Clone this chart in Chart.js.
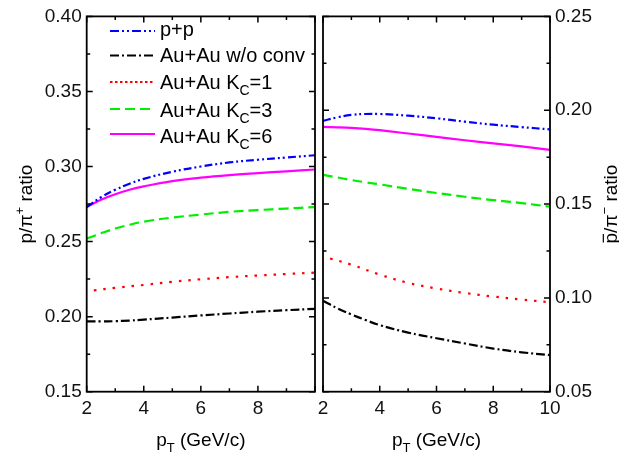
<!DOCTYPE html>
<html>
<head>
<meta charset="utf-8">
<script src="https://cdn.jsdelivr.net/npm/chart.js@4.4.1/dist/chart.umd.min.js"></script>
<style>
  body { margin: 0; background: #fff; }
  #wrap { position: relative; width: 619px; height: 459px; }
  #wrap canvas { position: absolute; left: 0; top: 0; }
</style>
</head>
<body>
<div id="wrap">
  <canvas id="leftChart" width="619" height="459"></canvas>
  <canvas id="rightChart" width="619" height="459"></canvas>
</div>
<script>
// pT points
const ptGrid = [2, 2.5, 3, 3.5, 4, 5, 6, 7, 8, 9, 10];
const ptRed = [2.25, 3, 4, 5, 6, 7, 8, 9, 10];

// left panel: p/pi+ ratio
const ppLeft = [0.273, 0.2795, 0.2845, 0.2885, 0.2918, 0.2965, 0.300, 0.3027, 0.3045, 0.306, 0.3075];
const noConvLeft = [0.1968, 0.1968, 0.1970, 0.1974, 0.1980, 0.1994, 0.2008, 0.2021, 0.2033, 0.2043, 0.2052];
const kc1Left = [0.2175, 0.2192, 0.2211, 0.2232, 0.2249, 0.2263, 0.2274, 0.2284, 0.2293];
const kc3Left = [0.252, 0.2555, 0.2587, 0.2612, 0.2633, 0.266, 0.268, 0.2698, 0.271, 0.272, 0.273];
const kc6Left = [0.273, 0.2778, 0.2815, 0.2845, 0.2868, 0.2903, 0.2926, 0.2943, 0.2956, 0.2968, 0.298];

// right panel: pbar/pi- ratio
const ppRight = [0.1943, 0.1962, 0.1975, 0.1980, 0.1980, 0.1971, 0.1957, 0.1939, 0.1923, 0.1910, 0.1898];
const noConvRight = [0.0985, 0.0945, 0.0912, 0.0882, 0.0855, 0.0815, 0.0785, 0.0757, 0.0730, 0.0710, 0.0695];
const kc1Right = [0.121, 0.1177, 0.1124, 0.1080, 0.1050, 0.1026, 0.1007, 0.0991, 0.0977];
const kc3Right = [0.1656, 0.1642, 0.1628, 0.1616, 0.1605, 0.1581, 0.1559, 0.1539, 0.1521, 0.1505, 0.1486];
const kc6Right = [0.1911, 0.1909, 0.1906, 0.1901, 0.1894, 0.1876, 0.1858, 0.1840, 0.1823, 0.1807, 0.1789];

const xTicksLeft = [2, 4, 6, 8];
const xTicksRight = [2, 4, 6, 8, 10];

const FONT = '"Liberation Sans", Arial, sans-serif';

const styles = [
    { label: [['p+p']], color: '#0000ff', dash: [8, 3, 2, 3, 2, 3], legendDash: [9, 3, 2, 3, 2, 3] },
    { label: [['Au+Au w/o conv']], color: '#000000', dash: [9, 3, 2, 3], legendDash: [9, 3, 2, 3] },
    { label: [['Au+Au K'], ['C', 'sub'], ['=1']], color: '#ff0000', dash: [2.5, 7], legendDash: [2.5, 2.5] },
    { label: [['Au+Au K'], ['C', 'sub'], ['=3']], color: '#00ee00', dash: [10, 5], legendDash: [10, 5] },
    { label: [['Au+Au K'], ['C', 'sub'], ['=6']], color: '#ff00ff', dash: [], legendDash: [] }
];

function pts(xs, ys) {
    return ys.map((y, i) => ({ x: xs[i], y: y }));
}

function makeDatasets(series) {
    return series.map((s, i) => ({
        label: styles[i].label.map(p => p[0]).join(''),
        data: pts(s[0], s[1]),
        borderColor: styles[i].color,
        borderDash: styles[i].dash,
        borderWidth: 2.2,
        pointRadius: 0,
        fill: false,
        tension: 0.4
    }));
}

// rich text: parts = [[text, kind]] with kind sub/sup/over
function drawRich(ctx, parts, x, y, size, align) {
    const small = Math.round(size * 0.68);
    let total = 0;
    const widths = parts.map(p => {
        ctx.font = (p[1] === 'sub' || p[1] === 'sup' ? small : size) + 'px ' + FONT;
        const w = ctx.measureText(p[0]).width;
        total += w;
        return w;
    });
    let cx = align === 'center' ? x - total / 2 : x;
    ctx.textAlign = 'left';
    ctx.textBaseline = 'alphabetic';
    parts.forEach((p, i) => {
        let dy = 0;
        if (p[1] === 'sub') { ctx.font = small + 'px ' + FONT; dy = size * 0.3; }
        else if (p[1] === 'sup') { ctx.font = small + 'px ' + FONT; dy = -size * 0.4; }
        else ctx.font = size + 'px ' + FONT;
        ctx.fillText(p[0], cx, y + dy);
        if (p[1] === 'over') {
            ctx.lineWidth = 1.2;
            ctx.setLineDash([]);
            ctx.beginPath();
            ctx.moveTo(cx + 1, y - size * 0.72);
            ctx.lineTo(cx + widths[i] - 1, y - size * 0.72);
            ctx.stroke();
        }
        cx += widths[i];
    });
}

function framePlugin(opts) {
    return {
        id: 'frame' + opts.side,
        afterDraw(chart) {
            const ctx = chart.ctx;
            const a = chart.chartArea;
            const xs = chart.scales.x, ys = chart.scales.y;
            ctx.save();
            ctx.strokeStyle = '#000';
            ctx.fillStyle = '#000';
            ctx.lineWidth = 1.8;
            ctx.setLineDash([]);
            ctx.strokeRect(a.left, a.top, a.right - a.left, a.bottom - a.top);
            ctx.lineWidth = 1.5;
            ctx.beginPath();
            // x ticks, every 1 unit, major every 2
            for (let v = 2; v <= 10; v += 1) {
                const px = xs.getPixelForValue(v);
                const len = v % 2 === 0 ? 6 : 3.5;
                ctx.moveTo(px, a.bottom); ctx.lineTo(px, a.bottom - len);
                ctx.moveTo(px, a.top); ctx.lineTo(px, a.top + len);
            }
            // y ticks
            const n = Math.round((opts.yMax - opts.yMin) / opts.minor);
            for (let k = 0; k <= n; k++) {
                const v = opts.yMin + k * opts.minor;
                const py = ys.getPixelForValue(v);
                const len = k % 2 === 0 ? 6 : 3.5;
                ctx.moveTo(a.left, py); ctx.lineTo(a.left + len, py);
                ctx.moveTo(a.right, py); ctx.lineTo(a.right - len, py);
            }
            ctx.stroke();

            // x title
            const cx = (a.left + a.right) / 2;
            drawRich(ctx, [['p'], ['T', 'sub'], [' (GeV/c)']], cx, 446, 19, 'center');

            // y title
            ctx.save();
            ctx.translate(opts.yTitleX, (a.top + a.bottom) / 2);
            ctx.rotate(-Math.PI / 2);
            drawRich(ctx, opts.yTitle, 0, 7, 19, 'center');
            ctx.restore();

            // legend
            if (opts.legend) {
                const rowsY = [35.5, 62.3, 89.3, 116.5, 143.3];
                const lineY = [31, 55.5, 82, 109, 134];
                styles.forEach((s, i) => {
                    ctx.strokeStyle = s.color;
                    ctx.lineWidth = 2;
                    ctx.setLineDash(s.legendDash);
                    ctx.beginPath();
                    ctx.moveTo(110, lineY[i]);
                    ctx.lineTo(155, lineY[i]);
                    ctx.stroke();
                    ctx.fillStyle = '#000';
                    drawRich(ctx, s.label, 160, rowsY[i], 20, 'left');
                });
            }
            ctx.restore();
        }
    };
}

function makeChart(id, cfg) {
    return new Chart(document.getElementById(id), {
        type: 'line',
        data: { datasets: makeDatasets(cfg.series) },
        options: {
            responsive: false,
            animation: false,
            layout: { padding: cfg.padding },
            plugins: { legend: { display: false }, tooltip: { enabled: false } },
            scales: {
                x: {
                    type: 'linear', min: 2, max: 10,
                    grid: { display: false, drawTicks: false },
                    border: { display: false },
                    afterFit: s => { s.height = 67.3; },
                    afterBuildTicks: s => { s.ticks = cfg.xTicks.map(v => ({ value: v })); },
                    ticks: { padding: 6, color: '#111', font: { family: FONT, size: 19 }, maxRotation: 0 }
                },
                y: {
                    type: 'linear', position: cfg.yPos, min: cfg.yMin, max: cfg.yMax,
                    grid: { display: false, drawTicks: false },
                    border: { display: false },
                    afterFit: s => { s.width = cfg.yWidth; },
                    ticks: {
                        stepSize: cfg.yStep, padding: 5, color: '#111',
                        font: { family: FONT, size: 19 },
                        callback: v => v.toFixed(2)
                    }
                }
            }
        },
        plugins: [framePlugin(cfg)]
    });
}

makeChart('leftChart', {
    side: 'L',
    series: [[ptGrid, ppLeft], [ptGrid, noConvLeft], [ptRed, kc1Left], [ptGrid, kc3Left], [ptGrid, kc6Left]],
    padding: { left: 0, top: 15, right: 304, bottom: 0 },
    xTicks: xTicksLeft,
    yPos: 'left', yMin: 0.15, yMax: 0.40, yStep: 0.05, minor: 0.025, yWidth: 86.7,
    yTitleX: 25,
    yTitle: [['p/π'], ['+', 'sup'], [' ratio']],
    legend: true
});

makeChart('rightChart', {
    side: 'R',
    series: [[ptGrid, ppRight], [ptGrid, noConvRight], [ptRed, kc1Right], [ptGrid, kc3Right], [ptGrid, kc6Right]],
    padding: { left: 323, top: 15, right: 0, bottom: 0 },
    xTicks: xTicksRight,
    yPos: 'right', yMin: 0.05, yMax: 0.25, yStep: 0.05, minor: 0.025, yWidth: 69,
    yTitleX: 610,
    yTitle: [['p', 'over'], ['/π'], ['−', 'sup'], [' ratio']],
    legend: false
});
</script>
</body>
</html>
